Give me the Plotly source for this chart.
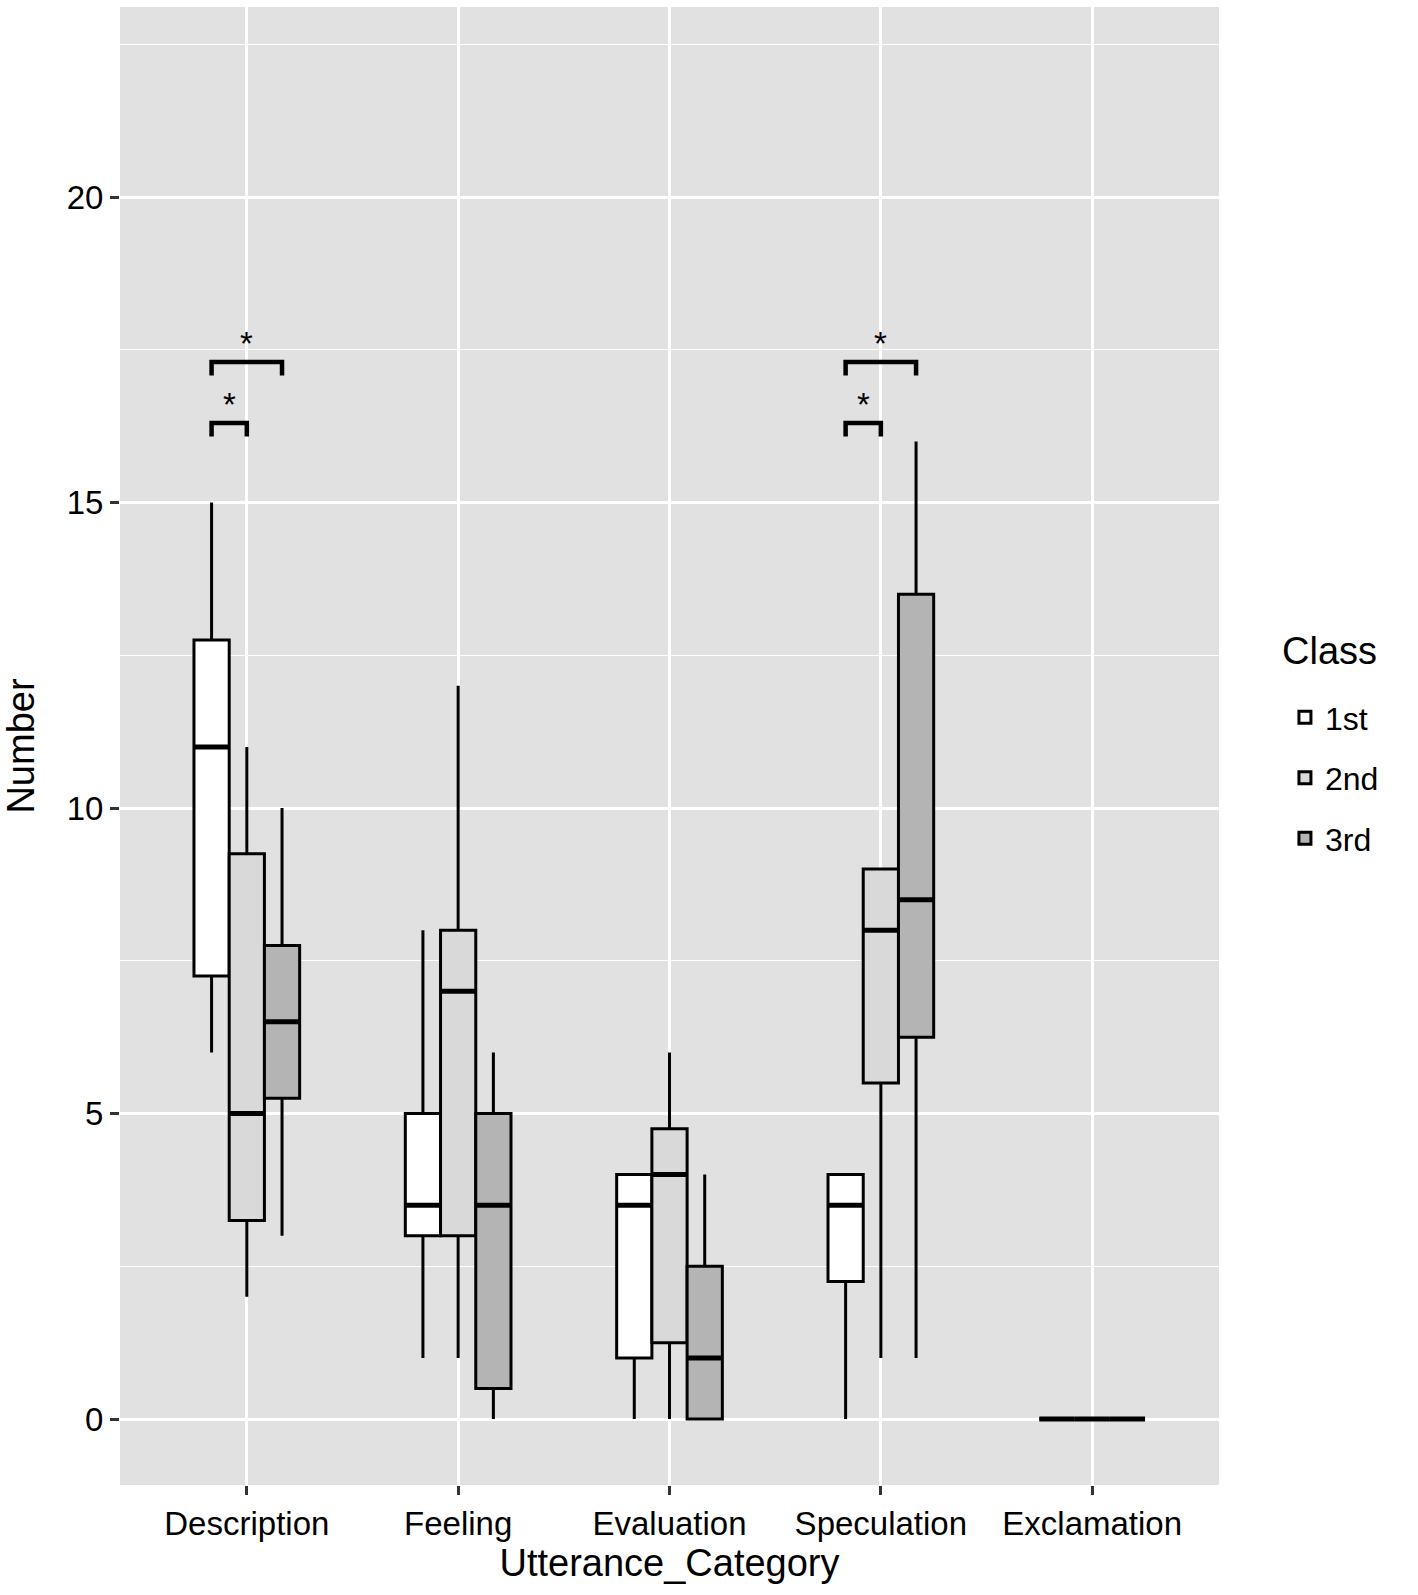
import plotly.graph_objects as go

categories = ["Description", "Feeling", "Evaluation", "Speculation", "Exclamation"]
classes = ["1st", "2nd", "3rd"]

low_1st = [6, 1, 0, 0, 0]
q1_1st = [7.25, 3, 1, 2.25, 0]
med_1st = [11, 3.5, 3.5, 3.5, 0]
q3_1st = [12.75, 5, 4, 4, 0]
up_1st = [15, 8, 4, 4, 0]

low_2nd = [2, 1, 0, 1, 0]
q1_2nd = [3.25, 3, 1.25, 5.5, 0]
med_2nd = [5, 7, 4, 8, 0]
q3_2nd = [9.25, 8, 4.75, 9, 0]
up_2nd = [11, 12, 6, 9, 0]

low_3rd = [3, 0, 0, 1, 0]
q1_3rd = [5.25, 0.5, 0, 6.25, 0]
med_3rd = [6.5, 3.5, 1, 8.5, 0]
q3_3rd = [7.75, 5, 2.5, 13.5, 0]
up_3rd = [10, 6, 4, 16, 0]

fills = ["#ffffff", "#d9d9d9", "#b4b4b4"]

# significance comparisons: (category, class_a, class_b, bracket level)
sig_category = ["Description", "Description", "Speculation", "Speculation"]
sig_a = [0, 0, 0, 0]
sig_b = [1, 2, 1, 2]
sig_level = [16.3, 17.3, 16.3, 17.3]
sig_label = ["*", "*", "*", "*"]

y_ticks = [0, 5, 10, 15, 20]

stats = [
    (low_1st, q1_1st, med_1st, q3_1st, up_1st),
    (low_2nd, q1_2nd, med_2nd, q3_2nd, up_2nd),
    (low_3rd, q1_3rd, med_3rd, q3_3rd, up_3rd),
]

dodge = 0.5
bw = dodge / len(classes)


def pos(ci, gi):
    return ci + 1 - dodge / 2 + bw * (gi + 0.5)


FONT = "Liberation Sans, Arial, sans-serif"
fig = go.Figure()

for gi, (cls, (lo, q1, md, q3, up)) in enumerate(zip(classes, stats)):
    xs = [pos(ci, gi) for ci in range(len(categories))]
    fig.add_trace(go.Box(
        x=xs, q1=q1, median=md, q3=q3, lowerfence=lo, upperfence=up,
        name=cls, legendgroup=cls, width=bw,
        fillcolor=fills[gi], line=dict(color="black", width=3),
        whiskerwidth=0, boxpoints=False, hoverinfo="skip",
    ))
    # thicker median lines (ggplot fatten)
    mx, my = [], []
    for ci, x in enumerate(xs):
        mx += [x - bw / 2, x + bw / 2, None]
        my += [md[ci], md[ci], None]
    fig.add_trace(go.Scatter(x=mx, y=my, mode="lines", showlegend=False,
                             line=dict(color="black", width=5), hoverinfo="skip"))

tick_drop = 0.22
for cat, a, b, lev, lab in zip(sig_category, sig_a, sig_b, sig_level, sig_label):
    ci = categories.index(cat)
    xa, xb = pos(ci, a), pos(ci, b)
    fig.add_trace(go.Scatter(
        x=[xa, xa, xb, xb], y=[lev - tick_drop, lev, lev, lev - tick_drop],
        mode="lines", line=dict(color="black", width=4.5), showlegend=False, hoverinfo="skip"))
    fig.add_annotation(x=(xa + xb) / 2, y=lev, text=lab, showarrow=False,
                       yanchor="bottom", yshift=-2, font=dict(size=33, color="black", family=FONT))

# legend title as separate text for ggplot-like spacing
fig.add_annotation(xref="paper", yref="paper", x=1.0555, y=0.564, xanchor="left", yanchor="middle",
                   text="Class", showarrow=False, font=dict(size=38, color="black", family=FONT))

fig.update_layout(
    width=1418, height=1595,
    margin=dict(l=120, r=199, t=7, b=110),
    paper_bgcolor="white", plot_bgcolor="#e1e1e1",
    boxmode="overlay",
    font=dict(family=FONT, color="black"),
    legend=dict(
        font=dict(size=32, color="black"),
        x=1.06, y=0.538, xanchor="left", yanchor="top",
        tracegroupgap=16, bgcolor="rgba(0,0,0,0)",
    ),
    xaxis=dict(
        range=[0.4, 5.6], tickvals=[i + 1 for i in range(len(categories))], ticktext=categories,
        showgrid=True, gridcolor="white", gridwidth=2.5, zeroline=False,
        ticks="outside", ticklen=9, tickwidth=2.5, tickcolor="#333",
        tickfont=dict(size=33, color="black"),
        title=dict(text="Utterance_Category", font=dict(size=38, color="black"), standoff=4),
    ),
    yaxis=dict(
        range=[-1.08, 23.11], tickvals=y_ticks,
        showgrid=True, gridcolor="white", gridwidth=2.5, zeroline=False,
        minor=dict(dtick=2.5, tick0=0, showgrid=True, gridcolor="white", gridwidth=1.3),
        ticks="outside", ticklen=9, tickwidth=2.5, tickcolor="#333",
        tickfont=dict(size=33, color="black"),
        title=dict(text="Number", font=dict(size=38, color="black"), standoff=20),
    ),
)

fig.write_html("out.html", config={"displayModeBar": False},
               post_script="document.body.style.margin='0';")
